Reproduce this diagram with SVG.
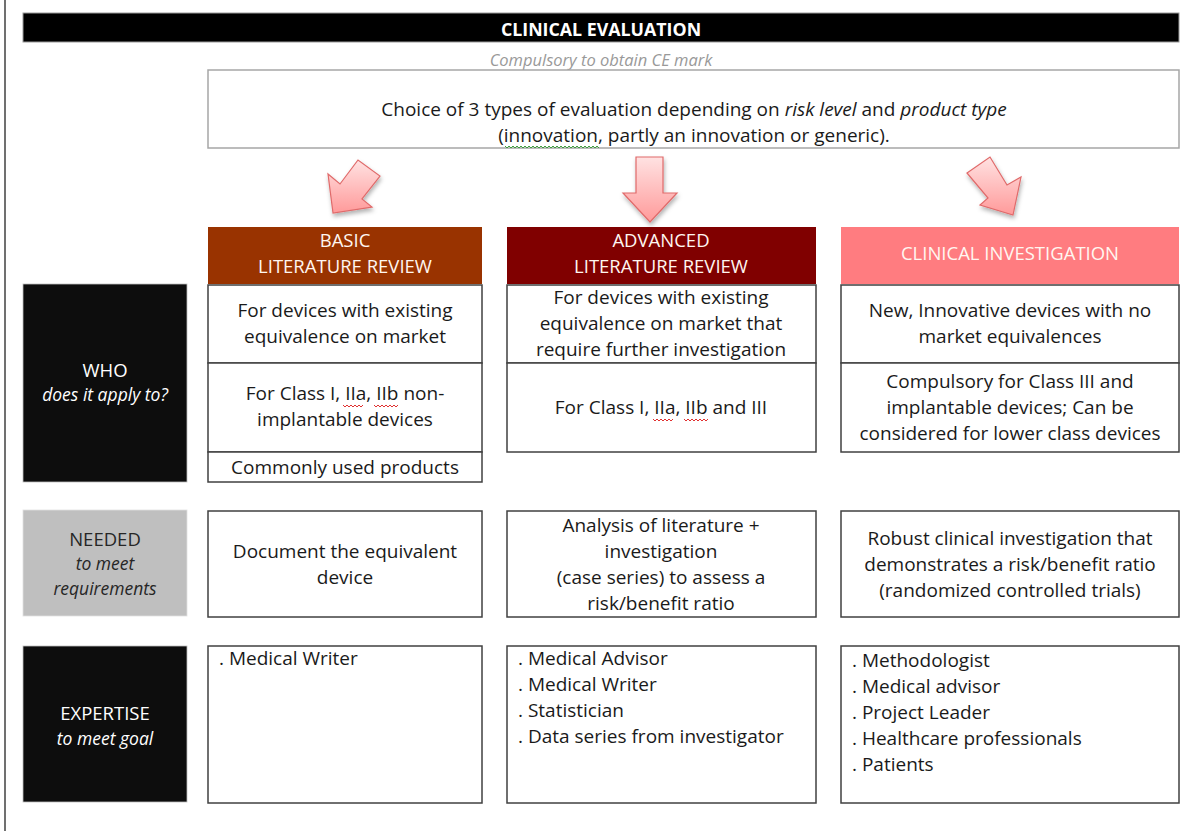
<svg xmlns="http://www.w3.org/2000/svg" width="1195" height="831" viewBox="0 0 1195 831">
<defs>
<linearGradient id="ag" x1="0" y1="0" x2="0" y2="1">
<stop offset="0" stop-color="#ffe2e2"/>
<stop offset="1" stop-color="#ff9a9a"/>
</linearGradient>
<filter id="sh" x="-30%" y="-30%" width="160%" height="160%">
<feDropShadow dx="1" dy="3" stdDeviation="2" flood-color="#000" flood-opacity="0.3"/>
</filter>
<style>
text{font-family:"Open Sans","Liberation Sans",Arial,sans-serif;}
.cell{fill:#fff;stroke:#404040;stroke-width:1.5;}
.t{font-size:19px;fill:#1a1a1a;text-anchor:middle;}
.l{font-size:19px;fill:#1a1a1a;}
.h{font-size:18.5px;fill:#fff6f0;text-anchor:middle;}
.lab{font-size:18.5px;fill:#fff;text-anchor:middle;}
.labi{font-size:17.5px;fill:#fff;text-anchor:middle;font-style:italic;}
.arrow{fill:url(#ag);stroke:#e06a6a;stroke-width:1.2;filter:url(#sh);}
.wr{fill:none;stroke:#e03030;stroke-width:1;}
.wg{fill:none;stroke:#40a040;stroke-width:1;}
</style>
</defs>
<line x1="5" y1="0" x2="5" y2="831" stroke="#404040" stroke-width="1.5"/>

<g id="title">
<rect x="23" y="13" width="1156" height="29" fill="#000" stroke="#9a9a9a" stroke-width="1"/>
<text x="601" y="36" font-size="17.8" font-weight="bold" fill="#fff" text-anchor="middle">CLINICAL EVALUATION</text>
<text x="601" y="66" font-size="16.5" font-style="italic" fill="#999" text-anchor="middle">Compulsory to obtain CE mark</text>
</g>

<g id="choice">
<rect x="208" y="70" width="971" height="78" fill="#fff" stroke="#a6a6a6" stroke-width="1.5"/>
<text class="t" x="694" y="116">Choice of 3 types of evaluation depending on <tspan font-style="italic">risk level</tspan> and <tspan font-style="italic">product type</tspan></text>
<text class="t" x="694" y="142">(innovation, partly an innovation or generic).</text>
<path class="wg" d="M505 146 l2 2 l2 -2 l2 2 l2 -2 l2 2 l2 -2 l2 2 l2 -2 l2 2 l2 -2 l2 2 l2 -2 l2 2 l2 -2 l2 2 l2 -2 l2 2 l2 -2 l2 2 l2 -2 l2 2 l2 -2 l2 2 l2 -2 l2 2 l2 -2 l2 2 l2 -2 l2 2 l2 -2 l2 2 l2 -2 l2 2 l2 -2 l2 2 l2 -2 l2 2 l2 -2 l2 2 l2 -2 l2 2 l2 -2 l2 2 l2 -2 l2 2 l2 -2 l2 2"/>
</g>

<g id="connectors">
<polygon class="arrow" points="333,213 328,174 340,184 358,160 380,176 362,199 372,207"/>
<polygon class="arrow" points="636,157 663,157 663,193 677,193 650,222 623,193 636,193"/>
<polygon class="arrow" points="967,173 990,157 1007,185 1021,177 1013,215 980,205 988,198"/>
</g>

<g id="basic">
<rect x="208" y="227" width="274" height="57" fill="#993300"/>
<text class="h" x="345" y="247">BASIC</text>
<text class="h" x="345" y="273">LITERATURE REVIEW</text>
<rect class="cell" x="208" y="285" width="274" height="78"/>
<text class="t" x="345" y="317">For devices with existing</text>
<text class="t" x="345" y="343">equivalence on market</text>
<rect class="cell" x="208" y="363" width="274" height="89"/>
<text class="t" x="345" y="400">For Class I, IIa, IIb non-</text>
<text class="t" x="345" y="426">implantable devices</text>
<path class="wr" d="M343 405 l2 2 l2 -2 l2 2 l2 -2 l2 2 l2 -2 l2 2 l2 -2 l2 2 l2 -2"/>
<path class="wr" d="M374 405 l2 2 l2 -2 l2 2 l2 -2 l2 2 l2 -2 l2 2 l2 -2 l2 2 l2 -2 l2 2 l2 -2"/>
<rect class="cell" x="208" y="452" width="274" height="30"/>
<text class="t" x="345" y="474">Commonly used products</text>
</g>

<g id="advanced">
<rect x="507" y="227" width="309" height="57" fill="#800000"/>
<text class="h" x="661" y="247">ADVANCED</text>
<text class="h" x="661" y="273">LITERATURE REVIEW</text>
<rect class="cell" x="507" y="285" width="309" height="78"/>
<text class="t" x="661" y="304">For devices with existing</text>
<text class="t" x="661" y="330">equivalence on market that</text>
<text class="t" x="661" y="356">require further investigation</text>
<rect class="cell" x="507" y="363" width="309" height="89"/>
<text class="t" x="661" y="414">For Class I, IIa, IIb and III</text>
<path class="wr" d="M653 419 l2 2 l2 -2 l2 2 l2 -2 l2 2 l2 -2 l2 2 l2 -2 l2 2 l2 -2"/>
<path class="wr" d="M684 419 l2 2 l2 -2 l2 2 l2 -2 l2 2 l2 -2 l2 2 l2 -2 l2 2 l2 -2 l2 2 l2 -2"/>
</g>

<g id="clinical">
<rect x="841" y="227" width="338" height="57" fill="#ff7c80"/>
<text class="h" x="1010" y="260">CLINICAL INVESTIGATION</text>
<rect class="cell" x="841" y="285" width="338" height="78"/>
<text class="t" x="1010" y="317">New, Innovative devices with no</text>
<text class="t" x="1010" y="343">market equivalences</text>
<rect class="cell" x="841" y="363" width="338" height="89"/>
<text class="t" x="1010" y="388">Compulsory for Class III and</text>
<text class="t" x="1010" y="414">implantable devices; Can be</text>
<text class="t" x="1010" y="440">considered for lower class devices</text>
</g>

<g id="who">
<rect x="23" y="284" width="164" height="198" fill="#0d0d0d" stroke="#bfbfbf" stroke-width="0.8"/>
<text class="lab" x="105" y="377">WHO</text>
<text class="labi" x="105" y="401">does it apply to?</text>
</g>

<g id="needed">
<rect x="23" y="510" width="164" height="106" fill="#bfbfbf" stroke="#e0e0e0" stroke-width="0.8"/>
<text class="lab" x="105" y="546" style="fill:#262626">NEEDED</text>
<text class="labi" x="105" y="570" style="fill:#262626">to meet</text>
<text class="labi" x="105" y="595" style="fill:#262626">requirements</text>
</g>

<g id="needed-basic">
<rect class="cell" x="208" y="511" width="274" height="106"/>
<text class="t" x="345" y="558">Document the equivalent</text>
<text class="t" x="345" y="584">device</text>
</g>
<g id="needed-advanced">
<rect class="cell" x="507" y="511" width="309" height="106"/>
<text class="t" x="661" y="532">Analysis of literature +</text>
<text class="t" x="661" y="558">investigation</text>
<text class="t" x="661" y="584">(case series) to assess a</text>
<text class="t" x="661" y="610">risk/benefit ratio</text>
</g>
<g id="needed-clinical">
<rect class="cell" x="841" y="511" width="338" height="106"/>
<text class="t" x="1010" y="545">Robust clinical investigation that</text>
<text class="t" x="1010" y="571">demonstrates a risk/benefit ratio</text>
<text class="t" x="1010" y="597">(randomized controlled trials)</text>
</g>

<g id="expertise">
<rect x="23" y="646" width="164" height="156" fill="#0d0d0d" stroke="#bfbfbf" stroke-width="0.8"/>
<text class="lab" x="105" y="720">EXPERTISE</text>
<text class="labi" x="105" y="745">to meet goal</text>
</g>

<g id="expertise-basic">
<rect class="cell" x="208" y="646" width="274" height="157"/>
<text class="l" x="219" y="665">. Medical Writer</text>
</g>
<g id="expertise-advanced">
<rect class="cell" x="507" y="646" width="309" height="157"/>
<text class="l" x="518" y="665">. Medical Advisor</text>
<text class="l" x="518" y="691">. Medical Writer</text>
<text class="l" x="518" y="717">. Statistician</text>
<text class="l" x="518" y="743">. Data series from investigator</text>
</g>
<g id="expertise-clinical">
<rect class="cell" x="841" y="646" width="338" height="157"/>
<text class="l" x="852" y="667">. Methodologist</text>
<text class="l" x="852" y="693">. Medical advisor</text>
<text class="l" x="852" y="719">. Project Leader</text>
<text class="l" x="852" y="745">. Healthcare professionals</text>
<text class="l" x="852" y="771">. Patients</text>
</g>
</svg>
